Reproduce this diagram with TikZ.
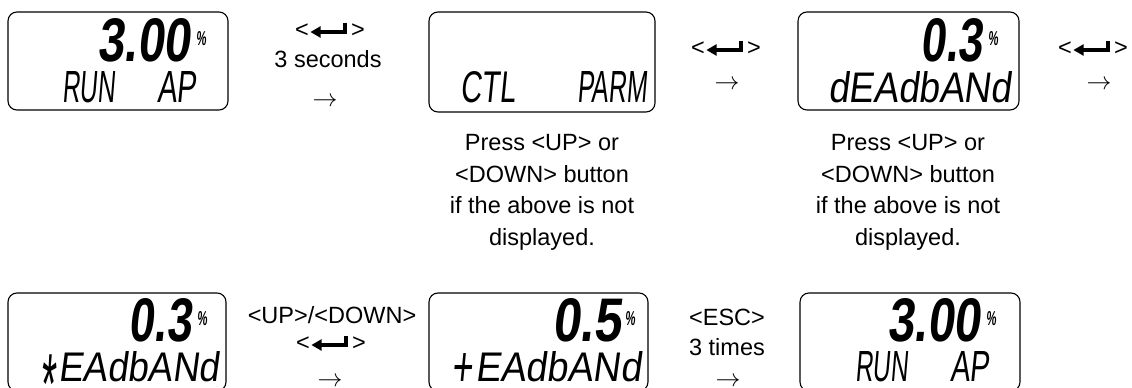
\documentclass[tikz,border=0pt]{standalone}
\usepackage{fontspec}
\setmainfont{Liberation Sans}
\newfontfamily\lcdfont[FakeSlant=0.15]{Liberation Sans}
\usepackage{graphicx}
\tikzset{
  box/.style={draw, rounded corners=9pt, line width=1.1pt, inner sep=0pt},
  lcd/.style={inner sep=0pt, anchor=south west},
  lbl/.style={inner sep=0pt, anchor=base, font=\fontsize{23.5}{28}\selectfont},
  arr/.style={inner sep=0pt, anchor=base, font=\fontsize{26}{28}\selectfont},
  enterkey/.pic={
    \node[lbl] (-lt) at (-29,0) {<};
    \node[lbl] (-gt) at (27,0) {>};
    \draw[line width=3.1pt] (14,-14.5) -- (14,-5) -- (-12,-5);
    \fill (-20.5,-5) -- (-10.5,-10.8) -- (-10.5,0.8) -- cycle;
  }
}
\newcommand{\lcdtxt}[3]{\resizebox{#1pt}{#2pt}{\lcdfont #3}}
\newcommand{\lcdbf}[3]{\resizebox{#1pt}{#2pt}{\lcdfont\bfseries #3}}
\begin{document}
\begin{tikzpicture}[x=1pt,y=-1pt]
\useasboundingbox (0,0) rectangle (1132,388);
% display boxes
\node[box, minimum width=220pt, minimum height=98pt] (d1) at (118,61) {};
\node[box, minimum width=226pt, minimum height=100pt] (d2) at (542,62) {};
\node[box, minimum width=221pt, minimum height=98pt] (d3) at (908.5,61) {};
\node[box, minimum width=218pt, minimum height=98pt] (d4) at (117,342) {};
\node[box, minimum width=219pt, minimum height=98pt] (d5) at (538.5,342) {};
\node[box, minimum width=220pt, minimum height=98pt] (d6) at (910,342) {};
% display 1
\node[lcd] (d1num) at (97,62) {\lcdbf{93}{43}{3.00}};
\node[lcd] (d1pc) at (196,46) {\lcdbf{10}{14}{\%}};
\node[lcd] (d1a) at (62,103) {\lcdtxt{53}{31}{RUN}};
\node[lcd] (d1b) at (157,103) {\lcdtxt{39}{31}{AP}};
% display 2
\node[lcd] (d2a) at (460,103) {\lcdtxt{55}{31}{CTL}};
\node[lcd] (d2b) at (577,103) {\lcdtxt{70}{31}{PARM}};
% display 3
\node[lcd] (d3num) at (920,62) {\lcdbf{62}{43}{0.3}};
\node[lcd] (d3pc) at (988,46) {\lcdbf{10}{14}{\%}};
\node[lcd] (d3a) at (828,103) {\lcdtxt{183}{31}{dEAdbANd}};
% display 4
\node[lcd] (d4num) at (128,342) {\lcdbf{63}{43}{0.3}};
\node[lcd] (d4pc) at (197,326) {\lcdbf{10}{14}{\%}};
\node[lcd] (d4s) at (39,378) {\resizebox{15pt}{25pt}{\raisebox{-0.423em}[0.293em][0pt]{\lcdfont *}}};
\node[lcd] (d4a) at (58,382) {\lcdtxt{161}{30}{EAdbANd}};
% display 5
\node[lcd] (d5num) at (552,342) {\lcdbf{69}{43}{0.5}};
\node[lcd] (d5pc) at (625,326) {\lcdbf{10}{14}{\%}};
\node[lcd] (d5s) at (451,380) {\resizebox{21pt}{27pt}{\raisebox{-0.116em}[0.473em][0pt]{\lcdfont +}}};
\node[lcd] (d5a) at (475,382) {\lcdtxt{166}{30}{EAdbANd}};
% display 6
\node[lcd] (d6num) at (887,342) {\lcdbf{93}{43}{3.00}};
\node[lcd] (d6pc) at (986,326) {\lcdbf{10}{14}{\%}};
\node[lcd] (d6a) at (855,382) {\lcdtxt{53}{30}{RUN}};
\node[lcd] (d6b) at (950,382) {\lcdtxt{39}{30}{AP}};
% transition labels row 1
\pic (entA) at (331,37) {enterkey};
\node[lbl] (secA) at (328,67) {3 seconds};
\node[arr] (arrA) at (325,106.5) {$\rightarrow$};
\pic (entB) at (727,55) {enterkey};
\node[arr] (arrB) at (727,89.5) {$\rightarrow$};
\pic (entC) at (1094,55) {enterkey};
\node[arr] (arrC) at (1099,89.5) {$\rightarrow$};
% notes
\node[lbl] (n1a) at (542,150.5) {Press <UP> or};
\node[lbl] (n1b) at (542,182) {<DOWN> button};
\node[lbl] (n1c) at (542,213.5) {if the above is not};
\node[lbl] (n1d) at (542,245) {displayed.};
\node[lbl] (n2a) at (908,150.5) {Press <UP> or};
\node[lbl] (n2b) at (908,182) {<DOWN> button};
\node[lbl] (n2c) at (908,213.5) {if the above is not};
\node[lbl] (n2d) at (908,245) {displayed.};
% transition labels row 2
\node[lbl] (udD) at (332,323) {<UP>/<DOWN>};
\pic (entD) at (332,350) {enterkey};
\node[arr] (arrD) at (330,386.5) {$\rightarrow$};
\node[lbl] (escE) at (727,325) {<ESC>};
\node[lbl] (timesE) at (727,355) {3 times};
\node[arr] (arrE) at (728,386.5) {$\rightarrow$};
\end{tikzpicture}
\end{document}
